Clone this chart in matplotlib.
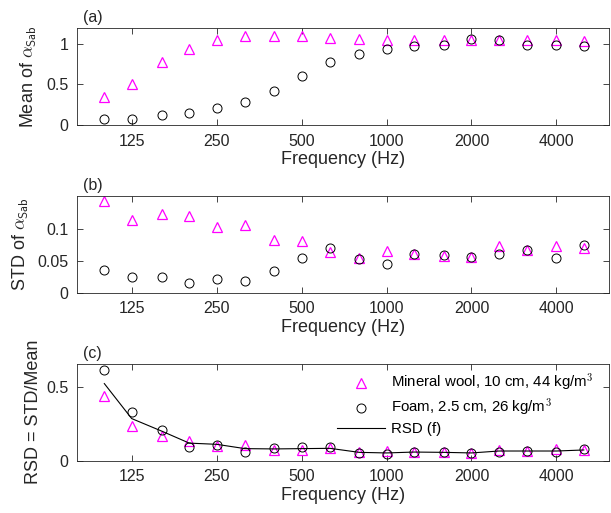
import matplotlib
matplotlib.use("Agg")
import matplotlib.pyplot as plt
from matplotlib.ticker import FixedLocator, FixedFormatter, NullLocator

# third-octave band centre frequencies (Hz)
freq = [100, 125, 160, 200, 250, 315, 400, 500, 630, 800,
        1000, 1250, 1600, 2000, 2500, 3150, 4000, 5000]
xticks = [125, 250, 500, 1000, 2000, 4000]
xticklabels = ["125", "250", "500", "1000", "2000", "4000"]

# (a) mean of alpha_Sab
mean_wool = [0.34, 0.51, 0.78, 0.93, 1.04, 1.10, 1.10, 1.10, 1.07, 1.06,
             1.05, 1.05, 1.05, 1.045, 1.045, 1.04, 1.04, 1.03]
mean_foam = [0.07, 0.08, 0.12, 0.15, 0.21, 0.29, 0.42, 0.60, 0.77, 0.87,
             0.94, 0.97, 0.98, 1.06, 1.04, 0.99, 0.98, 0.97]

# (b) std of alpha_Sab
std_wool = [0.1425, 0.114, 0.123, 0.119, 0.103, 0.106, 0.082, 0.081, 0.063, 0.054,
            0.065, 0.060, 0.0575, 0.055, 0.073, 0.067, 0.073, 0.070]
std_foam = [0.036, 0.025, 0.024, 0.0145, 0.021, 0.018, 0.034, 0.054, 0.070, 0.053,
            0.044, 0.061, 0.0585, 0.055, 0.061, 0.066, 0.054, 0.075]

# (c) relative standard deviation
rsd_wool = [0.44, 0.235, 0.166, 0.137, 0.103, 0.11, 0.076, 0.076, 0.085, 0.058,
            0.07, 0.063, 0.058, 0.056, 0.074, 0.07, 0.078, 0.072]
rsd_foam = [0.61, 0.33, 0.21, 0.096, 0.105, 0.06, 0.085, 0.094, 0.096, 0.056,
            0.049, 0.063, 0.058, 0.052, 0.063, 0.067, 0.058, 0.08]
rsd_fit = [0.52, 0.285, 0.20, 0.12, 0.112, 0.083, 0.081, 0.083, 0.085, 0.058,
           0.054, 0.06, 0.058, 0.054, 0.067, 0.067, 0.067, 0.074]

plt.rcParams["font.family"] = ["Liberation Sans", "DejaVu Sans"]
plt.rcParams["mathtext.fontset"] = "cm"

gray = "#262626"
magenta = "#ff00ff"

fig = plt.figure(figsize=(6.11, 5.13), dpi=100)
left, width = 0.126, 0.871
axa = fig.add_axes([left, 0.756, width, 0.189])
axb = fig.add_axes([left, 0.4294, width, 0.189])
axc = fig.add_axes([left, 0.1014, width, 0.19])


def style(ax, ylim, yticks, yticklabels, label):
    ax.set_xscale("log")
    ax.set_xlim(80, 6150)
    ax.xaxis.set_major_locator(FixedLocator(xticks))
    ax.xaxis.set_major_formatter(FixedFormatter(xticklabels))
    ax.xaxis.set_minor_locator(NullLocator())
    ax.set_ylim(*ylim)
    ax.set_yticks(yticks)
    ax.set_yticklabels(yticklabels)
    ax.tick_params(direction="in", top=True, right=True, length=4, width=0.6,
                   colors=gray, labelsize=11.5, pad=6)
    for s in ax.spines.values():
        s.set_color(gray)
        s.set_linewidth(0.6)
    ax.set_xlabel("Frequency (Hz)", fontsize=13, color=gray, labelpad=2)
    ax.text(0.012, 1.03, label, transform=ax.transAxes, fontsize=11.5,
            color=gray, va="bottom", ha="left")


axa.plot(freq, mean_wool, "^", ms=7, mfc="none", mec=magenta, mew=0.9)
axa.plot(freq, mean_foam, "o", ms=6.5, mfc="none", mec="black", mew=0.7)
style(axa, (0, 1.19), [0, 0.5, 1], ["0", "0.5", "1"], "(a)")
axa.set_ylabel(r"Mean of $\alpha_{\mathsf{Sab}}$", fontsize=13, color=gray,
               labelpad=5)

axb.plot(freq, std_wool, "^", ms=7, mfc="none", mec=magenta, mew=0.9)
axb.plot(freq, std_foam, "o", ms=6.5, mfc="none", mec="black", mew=0.7)
style(axb, (0, 0.151), [0, 0.05, 0.1], ["0", "0.05", "0.1"], "(b)")
axb.set_ylabel(r"STD of $\alpha_{\mathsf{Sab}}$", fontsize=13, color=gray,
               labelpad=5)

axc.plot(freq, rsd_wool, "^", ms=7, mfc="none", mec=magenta, mew=0.9,
         label=r"Mineral wool, 10 cm, 44 kg/m$^{\mathsf{3}}$")
axc.plot(freq, rsd_foam, "o", ms=6.5, mfc="none", mec="black", mew=0.7,
         label=r"Foam, 2.5 cm, 26 kg/m$^{\mathsf{3}}$")
axc.plot(freq, rsd_fit, "-", color="black", lw=0.8, label="RSD (f)")
style(axc, (0, 0.655), [0, 0.5], ["0", "0.5"], "(c)")
axc.set_ylabel("RSD = STD/Mean", fontsize=13, color=gray, labelpad=3)
axc.legend(loc="upper left", frameon=False, fontsize=10.8, handlelength=3.2,
           handletextpad=0.4, labelspacing=0.25, borderpad=0, borderaxespad=0,
           bbox_to_anchor=(0.489, 0.91))

fig.savefig("out.png", dpi=100)
